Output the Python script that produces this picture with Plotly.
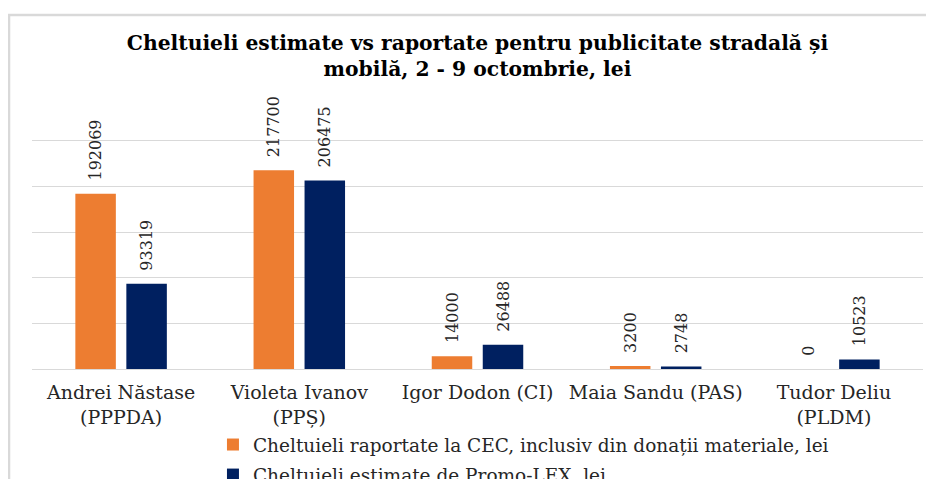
import plotly.graph_objects as go

categories = ["Andrei Năstase<br>(PPPDA)", "Violeta Ivanov<br>(PPȘ)", "Igor Dodon (CI)",
              "Maia Sandu (PAS)", "Tudor Deliu<br>(PLDM)"]
reported = [192069, 217700, 14000, 3200, 0]
estimated = [93319, 206475, 26488, 2748, 10523]
series_names = ["Cheltuieli raportate la CEC, inclusiv din donații materiale, lei",
                "Cheltuieli estimate de Promo-LEX, lei"]
title_text = "Cheltuieli estimate vs raportate pentru publicitate stradală și<br>mobilă, 2 - 9 octombrie, lei"

FONT = "DejaVu Serif"
ORANGE = "#ED7D31"
NAVY = "#002060"
GRID = "#d9d9d9"

W, H = 926, 471  # page body has an 8px margin

def labels(vals):
    return ["\u00a0\u00a0" + str(v) for v in vals]

fig = go.Figure()
for i, (name, vals, col) in enumerate([(series_names[0], reported, ORANGE),
                                        (series_names[1], estimated, NAVY)]):
    fig.add_trace(go.Bar(
        x=categories, y=vals, name=name, legendgroup=f"g{i}",
        marker=dict(color=col, line=dict(width=0)),
        text=labels(vals), textposition="outside", textangle=-90,
        textfont=dict(family=FONT, size=16, color="#262626"),
        constraintext="none", cliponaxis=False,
    ))

fig.update_layout(
    width=W, height=H,
    margin=dict(l=24, r=11, t=131, b=110, autoexpand=False),
    paper_bgcolor="white", plot_bgcolor="white",
    barmode="group", bargap=0.4276, bargroupgap=0.206,
    title=dict(text=title_text, x=0.5, xref="paper", xanchor="center",
               y=1 - 42 / H, yref="container", yanchor="top",
               font=dict(family=FONT, size=20.3, color="#000000", weight="bold")),
    showlegend=True,
    legend=dict(orientation="v", x=0.2031, xanchor="left",
                y=(H - 418) / H, yref="container", yanchor="top",
                font=dict(family=FONT, size=18.5, color="#262626"),
                bgcolor="rgba(0,0,0,0)", traceorder="grouped", tracegroupgap=3),
    xaxis=dict(showgrid=False, showline=False, zeroline=False, ticks="",
               ticklabelstandoff=10,
               tickfont=dict(family=FONT, size=19, color="#262626")),
    yaxis=dict(range=[0, 252000], dtick=50000, showgrid=True, gridcolor=GRID, gridwidth=1,
               zeroline=True, zerolinecolor=GRID, zerolinewidth=1,
               showticklabels=False, showline=False, ticks=""),
    shapes=[
        dict(type="line", xref="paper", yref="paper", x0=-0.0258, x1=-0.0258, y0=-0.6, y1=1.5391,
             line=dict(color=GRID, width=2.5)),
        dict(type="line", xref="paper", yref="paper", x0=-0.027, x1=1.05, y0=1.5391, y1=1.5391,
             line=dict(color=GRID, width=2.5)),
    ],
)

fig.write_html("out.html")
